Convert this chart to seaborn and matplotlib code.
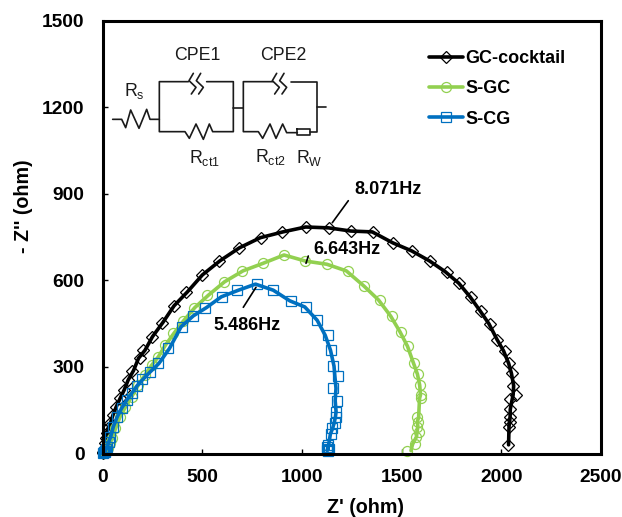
import numpy as np
import pandas as pd
import matplotlib
matplotlib.use("Agg")
import matplotlib.pyplot as plt
from matplotlib.lines import Line2D
from matplotlib.transforms import Affine2D
import seaborn as sns

gc_x = [3, 5, 8, 12, 16, 21, 29, 38, 51, 68, 88, 109, 129, 149, 188, 205, 247, 300, 358, 419, 500, 584, 684,
        793, 898, 1023, 1135, 1244, 1357, 1458, 1553, 1642, 1728, 1787, 1846, 1897, 1942, 1976,
        2018, 2039, 2054, 2059, 2073, 2046, 2046, 2043, 2043, 2039, 2034]
gc_y = [3, 6, 10, 35, 52, 71, 88, 105, 133, 162, 191, 220, 255, 287, 330, 358, 405, 453, 512, 560, 619, 668, 713,
        748, 768, 785, 782, 771, 768, 730, 702, 667, 630, 590, 543, 493, 449, 395,
        356, 312, 278, 235, 203, 189, 153, 125, 110, 93, 30]

sgc_x = [6, 10, 15, 22, 29, 37, 46, 63, 88, 113, 146, 180, 213, 247, 280, 313, 355, 405, 460, 525, 610, 701, 803,
         910, 1018, 1124, 1232, 1312, 1391, 1450, 1495, 1530, 1563, 1583, 1592, 1597, 1595, 1578,
         1583, 1575, 1587, 1571, 1566, 1528]
sgc_y = [2, 3, 5, 12, 18, 35, 53, 87, 127, 162, 197, 237, 272, 306, 335, 376, 416, 460, 506, 549, 595, 633, 659,
         688, 667, 656, 633, 580, 532, 476, 422, 372, 315, 275, 237, 203, 191, 125,
         110, 93, 75, 58, 32, 10]

scg_x = [5, 7, 9, 12, 15, 18, 24, 31, 38, 54, 71, 96, 121, 146, 171, 200, 238, 280, 330, 397, 455, 514, 597, 676, 773,
         853, 943, 1023, 1077, 1129, 1144, 1157, 1182, 1157, 1174, 1170, 1170, 1165, 1152, 1145,
         1132, 1124, 1130, 1128, 1134]
scg_y = [2, 4, 6, 5, 10, 16, 24, 40, 58, 93, 127, 157, 185, 208, 234, 257, 283, 312, 364, 439, 477, 506, 543, 566, 587,
         566, 529, 508, 462, 410, 358, 303, 268, 226, 183, 145, 128, 107, 87, 68,
         29, 12, 10, 22, 16]

x_ticks = [0, 500, 1000, 1500, 2000, 2500]
y_ticks = [0, 300, 600, 900, 1200, 1500]

sns.set_style("white")
plt.rcParams['font.family'] = ['Liberation Sans', 'DejaVu Sans']
plt.rcParams['mathtext.fontset'] = 'custom'
plt.rcParams['mathtext.rm'] = 'Liberation Sans'
plt.rcParams['text.color'] = 'black'
plt.rcParams['axes.labelcolor'] = 'black'
plt.rcParams['xtick.color'] = 'black'
plt.rcParams['ytick.color'] = 'black'

fig = plt.figure(figsize=(6.22, 5.17), dpi=100)
ax = fig.add_axes([102.5 / 622, 1 - 453.5 / 517, (601 - 102.5) / 622, (453.5 - 20.7) / 517])

series = [
    ('GC-cocktail', gc_x, gc_y, '#000000', 'D', 6.2),
    ('S-GC', sgc_x, sgc_y, '#92D050', 'o', 7.2),
    ('S-CG', scg_x, scg_y, '#0070C0', 's', 6.8),
]
handles = []
for name, xs, ys, color, marker, ms in series:
    df = pd.DataFrame({'x': xs, 'y': ys})
    # the original line is smoothed, so it runs through the jitter of the markers
    df['x_line'] = df['x'].rolling(3, center=True, min_periods=1).mean()
    sns.lineplot(data=df, x='x_line', y='y', sort=False, estimator=None, ax=ax, color=color,
                 linewidth=2.6, clip_on=False)
    sns.lineplot(data=df, x='x', y='y', sort=False, estimator=None, ax=ax, color=color,
                 linestyle='none', marker=marker, markersize=ms, markerfacecolor='none',
                 markeredgecolor=color, markeredgewidth=0.9, clip_on=False)
    handles.append(Line2D([], [], color=color, lw=2.6, marker=marker, markersize=ms, markerfacecolor='none',
                          markeredgecolor=color, markeredgewidth=0.9, label=name))

ax.set_xlim(0, 2500)
ax.set_ylim(0, 1500)
ax.set_xticks(x_ticks)
ax.set_yticks(y_ticks)
ax.set_xlabel("Z' (ohm)", fontweight='bold', fontsize=14.2)
ax.set_ylabel("- Z'' (ohm)", fontweight='bold', fontsize=14.2)
ax.xaxis.set_label_coords(0.5266, -0.103)
ax.yaxis.set_label_coords(-0.139, 0.572)
ax.tick_params(direction='in', length=3.5, width=1, labelsize=13.8, bottom=True, left=True)
ax.tick_params(axis='x', pad=11)
ax.tick_params(axis='y', pad=13)
for label in ax.get_xticklabels() + ax.get_yticklabels():
    label.set_fontweight('bold')
for side in ['left', 'bottom', 'top', 'right']:
    ax.spines[side].set_linewidth(2.2)
    ax.spines[side].set_color('black')

ax.legend(handles=handles, loc='upper left', bbox_to_anchor=(429 / 622, 1 - 50 / 517), bbox_transform=fig.transFigure,
          frameon=False, prop={'weight': 'bold', 'size': 13}, labelspacing=0.74,
          handlelength=1.9, handletextpad=0.1, borderpad=0, borderaxespad=0)

# everything below is placed in image pixels
px = Affine2D().scale(1 / 622, -1 / 517).translate(0, 1) + fig.transFigure


def wire(points, lw=1.2):
    pts = np.array(points, dtype=float)
    xs = 90 + pts[:, 0] / 3
    ys = 10 + pts[:, 1] / 3
    fig.add_artist(plt.Line2D(xs, ys, transform=px, color='#1a1a1a', lw=lw))


wire([(68, 328), (95, 328), (107, 353), (122, 300), (147, 355), (170, 298), (180, 328), (208, 328)])
wire([(295, 215), (208, 215), (208, 365), (285, 365), (298, 385), (318, 342), (340, 388), (358, 342),
      (368, 365), (430, 365), (430, 215), (350, 215)])
wire([(430, 293), (460, 293)])
wire([(548, 215), (460, 215), (460, 365), (505, 365), (518, 385), (540, 342), (558, 385), (578, 342),
      (590, 368), (622, 368)])
wire([(622, 358), (660, 358), (660, 376), (622, 376), (622, 358)])
wire([(660, 367), (680, 367), (680, 215), (603, 215)])
wire([(680, 291), (708, 291)])
for off in [0, 22, 250, 272]:
    wire([(310 + off, 190), (297 + off, 212), (318 + off, 232), (304 + off, 252)])

for xp, yp, s, size in [
    (197, 56, 'CPE1', 12.8), (283, 56, 'CPE2', 12.8), (134, 91, r'R$_{\mathrm{s}}$', 12.8),
    (205, 158, r'R$_{\mathrm{ct1}}$', 12.8), (270, 157, r'R$_{\mathrm{ct2}}$', 12.8),
    (309, 158, r'R$_{\mathrm{W}}$', 12.8),
]:
    fig.text(xp, yp, s, transform=px, fontsize=size, ha='center', va='center', color='#1a1a1a')

for x1, y1, x2, y2 in [(348.3, 200.7, 332.3, 222.7), (308.3, 256, 306, 263.3), (256, 287.3, 243.3, 307.3)]:
    fig.add_artist(plt.Line2D([x1, x2], [y1, y2], transform=px, color='black', lw=1.2))
for xp, yp, s in [(354, 190, '8.071Hz'), (313, 250, '6.643Hz'), (213, 326, '5.486Hz')]:
    fig.text(xp, yp, s, transform=px, fontsize=13, fontweight='bold', ha='left', va='center')

fig.savefig('out.png', dpi=100)
